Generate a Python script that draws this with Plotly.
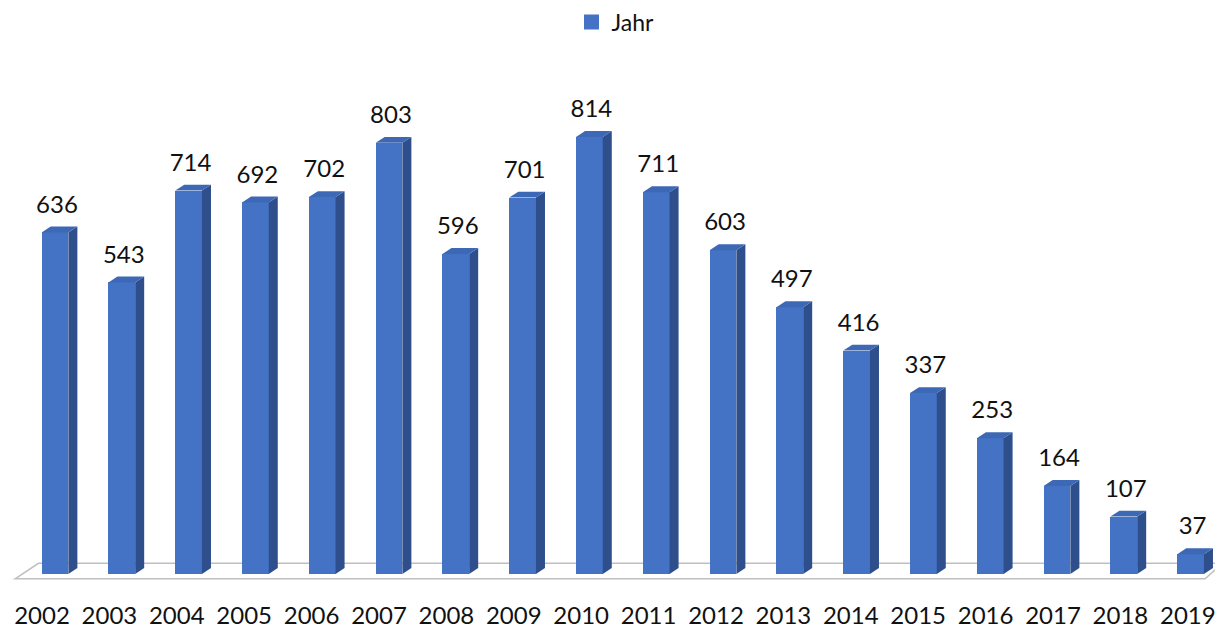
import plotly.graph_objects as go

years = ["2002", "2003", "2004", "2005", "2006", "2007", "2008", "2009", "2010",
         "2011", "2012", "2013", "2014", "2015", "2016", "2017", "2018", "2019"]
values = [636, 543, 714, 692, 702, 803, 596, 701, 814, 711, 603, 497, 416, 337, 253, 164, 107, 37]
series_name = "Jahr"

FRONT = "#4472C4"
SIDE = "#2E4F8C"
TOP = "#3D68B5"
FONT = "Lato"

idx = list(range(len(years)))
bw = 0.40          # front face width (category units)
dx = 0.135         # depth offset x
dy = 11            # depth offset y (value units)

fig = go.Figure()
fig.add_trace(go.Bar(
    x=idx, y=values, width=bw, marker=dict(color=FRONT, line=dict(width=0)),
    name=series_name, showlegend=False, hoverinfo="skip",
))
# legend entry with a larger square swatch
fig.add_trace(go.Scatter(
    x=[None], y=[None], mode="markers", name=series_name,
    marker=dict(symbol="square", size=15, color=FRONT), showlegend=True,
))
fig.add_trace(go.Scatter(
    x=[i + 0.03 for i in idx], y=[v + 48 for v in values], mode="text",
    text=[str(v) for v in values], textposition="middle center",
    textfont=dict(family=FONT, size=24, color="#111111"), showlegend=False, hoverinfo="skip",
    cliponaxis=False,
))

shapes = []
# floor
xf0, xf1 = -0.598, 17.216
shapes.append(dict(type="path", xref="x", yref="y", layer="below",
                   path=f"M {xf0},-9 L {xf0 + 0.35},20 L {xf1 + 0.26},20 L {xf1},-9 Z",
                   line=dict(color="#BFBFBF", width=1.5), fillcolor="white"))
for i, v in zip(idx, values):
    x0 = i - bw / 2
    x1 = i + bw / 2
    shapes.append(dict(type="path", xref="x", yref="y", layer="above",
                       path=f"M {x1},0 L {x1 + dx},{dy} L {x1 + dx},{v + dy} L {x1},{v} Z",
                       line=dict(width=0), fillcolor=SIDE))
    shapes.append(dict(type="path", xref="x", yref="y", layer="above",
                       path=f"M {x0},{v} L {x0 + dx},{v + dy} L {x1 + dx},{v + dy} L {x1},{v} Z",
                       line=dict(width=0), fillcolor=TOP))

fig.update_layout(
    width=1215, height=621,
    margin=dict(l=0, r=0, t=52, b=45, autoexpand=False),
    plot_bgcolor="white", paper_bgcolor="white",
    shapes=shapes,
    bargap=0,
    legend=dict(orientation="h", x=0.5, xanchor="center", y=1.0725, yanchor="middle",
                font=dict(family=FONT, size=23, color="#111111")),
    xaxis=dict(range=[-0.7036, 17.485], showgrid=False, zeroline=False, showline=False,
               tickmode="array", automargin=False,
               tickvals=[i * 1.009 - 0.195 for i in idx], ticktext=years,
               tickfont=dict(family=FONT, size=24, color="#111111"),
               ticks="outside", ticklen=10, tickcolor="rgba(0,0,0,0)"),
    yaxis=dict(range=[-18.6, 957.2], showgrid=False, zeroline=False, showline=False,
               showticklabels=False, automargin=False),
    font=dict(family=FONT),
)

fig.write_html("out.html")
